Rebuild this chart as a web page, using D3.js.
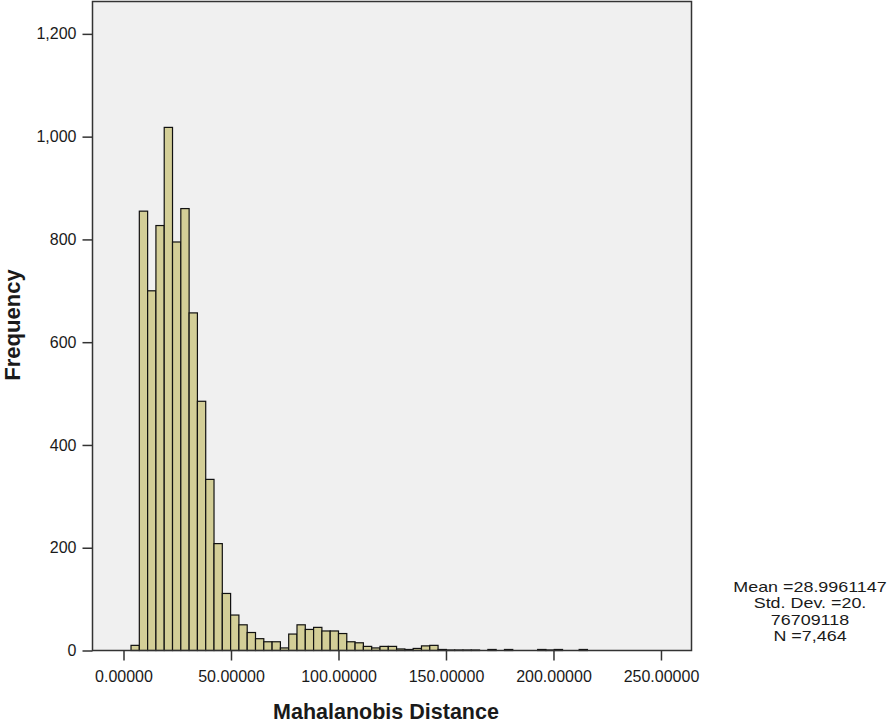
<!DOCTYPE html>
<html>
<head>
<meta charset="utf-8">
<script src="https://cdn.jsdelivr.net/npm/d3@7"></script>
<style>
  html, body { margin: 0; padding: 0; background: #ffffff; }
  svg { display: block; }
  text { font-family: "Liberation Sans", Arial, sans-serif; fill: #1a1a1a; }
</style>
</head>
<body>
<svg id="chart" width="890" height="723"></svg>
<script>
// ---- data ----
const binStart = 3.5;       // lower edge of first bin (Mahalanobis distance)
const binWidth = 3.86;      // bin width
const counts = [10, 855, 700, 827, 1018, 795, 860, 657, 485, 333,
                208, 111, 69, 50, 35, 23, 17, 17, 5, 32,
                50, 41, 45, 38, 38, 33, 17, 15, 8, 5,
                8, 8, 3, 2, 4, 9, 10, 2, 1, 1,
                1, 1, 0, 2, 0, 2, 0, 0, 0, 2,
                1, 2, 0, 0, 2];
const xTicks = [0, 50, 100, 150, 200, 250];
const yTicks = [0, 200, 400, 600, 800, 1000, 1200];
const statLines = ["Mean =28.9961147", "Std. Dev. =20.", "76709118", "N =7,464"];
const xTitle = "Mahalanobis Distance";
const yTitle = "Frequency";

// ---- layout ----
const plot = { left: 92.5, right: 691.5, top: 1.5, bottom: 650.5 };
const svg = d3.select("#chart");

const x = d3.scaleLinear().domain([-14.42, 264.2]).range([plot.left, plot.right]);
const y = d3.scaleLinear().domain([0, 1263]).range([plot.bottom, plot.top]);

const bins = counts.map((c, i) => ({ x0: binStart + i * binWidth, x1: binStart + (i + 1) * binWidth, n: c }));

// plot background
svg.append("rect")
  .attr("x", plot.left).attr("y", plot.top)
  .attr("width", plot.right - plot.left).attr("height", plot.bottom - plot.top)
  .attr("fill", "#f0f0f0");

// bars
svg.append("g").selectAll("rect").data(bins.filter(d => d.n > 0)).join("rect")
  .attr("x", d => x(d.x0))
  .attr("y", d => y(d.n))
  .attr("width", d => x(d.x1) - x(d.x0))
  .attr("height", d => y(0) - y(d.n))
  .attr("fill", "#d3ce97")
  .attr("stroke", "#111")
  .attr("stroke-width", 1.2);

// frame
svg.append("rect")
  .attr("x", plot.left).attr("y", plot.top)
  .attr("width", plot.right - plot.left).attr("height", plot.bottom - plot.top)
  .attr("fill", "none").attr("stroke", "#333").attr("stroke-width", 1.5);

// y axis
const yAxis = svg.append("g")
  .attr("transform", `translate(${plot.left},0)`)
  .call(d3.axisLeft(y).tickValues(yTicks).tickFormat(d3.format(",")).tickSize(10).tickPadding(6).tickSizeOuter(0));
yAxis.select(".domain").remove();
yAxis.selectAll("line").attr("stroke", "#333").attr("stroke-width", 1.5);
yAxis.selectAll("text").style("font-size", "16px").style("font-family", '"Liberation Sans", Arial, sans-serif').attr("fill", "#1a1a1a");

// x axis
const xAxis = svg.append("g")
  .attr("transform", `translate(0,${plot.bottom})`)
  .call(d3.axisBottom(x).tickValues(xTicks).tickFormat(d3.format(".5f")).tickSize(10).tickPadding(10).tickSizeOuter(0));
xAxis.select(".domain").remove();
xAxis.selectAll("line").attr("stroke", "#333").attr("stroke-width", 1.5);
xAxis.selectAll("text").style("font-size", "16px").style("font-family", '"Liberation Sans", Arial, sans-serif').attr("fill", "#1a1a1a");

// axis titles
svg.append("text")
  .attr("x", (plot.left + plot.right) / 2 - 6).attr("y", 719)
  .attr("text-anchor", "middle")
  .style("font-size", "21.5px").style("font-weight", "bold")
  .text(xTitle);

svg.append("text")
  .attr("transform", `translate(20,${325}) rotate(-90)`)
  .attr("text-anchor", "middle")
  .style("font-size", "22px").style("font-weight", "bold")
  .text(yTitle);

// statistics (narrow-leading block, widened horizontally like the source rendering)
svg.append("g").selectAll("text").data(statLines).join("text")
  .attr("transform", (d, i) => `translate(810,${592 + i * 16.4}) scale(1.28,1)`)
  .attr("text-anchor", "middle")
  .style("font-size", "14px")
  .text(d => d);
</script>
</body>
</html>
